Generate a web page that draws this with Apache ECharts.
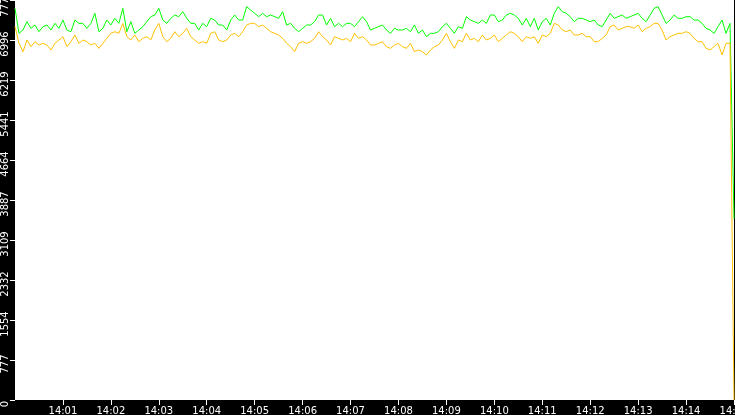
<!DOCTYPE html>
<html>
<head>
<meta charset="utf-8">
<script src="https://cdn.jsdelivr.net/npm/echarts@6/dist/echarts.min.js"></script>
<style>
  html, body { margin: 0; padding: 0; background: #000; }
  #chart { width: 735px; height: 415px; }
</style>
</head>
<body>
<div id="chart"></div>
<script>
// one sample every 5 s, 14:00:00 .. 14:15:00
const times = []
for (let s = 0; s <= 900; s += 5) {
  const m = Math.floor(s / 60), sec = s % 60
  times.push('14:' + String(m).padStart(2, '0') + ':' + String(sec).padStart(2, '0'))
}

const yTicks = ['0', '777', '1554', '2332', '3109', '3887', '4664', '5441', '6219', '6996', '7774']

const greenSeries = [
  7612, 7126, 7191, 7353, 7223, 7288, 7158, 7256, 7288, 7191, 7320, 7223, 7385, 7191, 7158, 7385, 7320, 7320, 7223, 7320, 7515, 7158, 7223, 7385, 7288, 7418, 7320, 7612, 7158, 7353,
  7126, 7191, 7256, 7353, 7450, 7482, 7612, 7385, 7320, 7418, 7482, 7450, 7547, 7418, 7320, 7320, 7191, 7320, 7256, 7418, 7385, 7288, 7288, 7191, 7385, 7482, 7385, 7385, 7644, 7580,
  7515, 7450, 7515, 7450, 7482, 7450, 7418, 7547, 7288, 7320, 7223, 7158, 7223, 7288, 7288, 7353, 7482, 7482, 7288, 7418, 7256, 7320, 7256, 7320, 7320, 7256, 7353, 7450, 7353, 7191,
  7223, 7256, 7288, 7191, 7126, 7223, 7191, 7191, 7223, 7158, 7288, 7126, 7191, 7061, 7126, 7126, 7158, 7256, 7320, 7223, 7126, 7256, 7223, 7450, 7385, 7353, 7320, 7385, 7320, 7482,
  7482, 7353, 7385, 7482, 7515, 7482, 7418, 7288, 7418, 7256, 7418, 7191, 7353, 7418, 7288, 7515, 7644, 7547, 7515, 7450, 7353, 7418, 7418, 7385, 7353, 7385, 7288, 7256, 7385, 7515,
  7418, 7450, 7482, 7418, 7450, 7482, 7515, 7418, 7353, 7482, 7612, 7644, 7482, 7320, 7385, 7482, 7418, 7418, 7450, 7450, 7385, 7385, 7320, 7223, 7191, 7126, 7256, 7385, 7126, 7320,
  3520
]

const orangeSeries = [
  7256, 6932, 6770, 6996, 6867, 6964, 6899, 6932, 6899, 6802, 6932, 6996, 7061, 6867, 6964, 7094, 6932, 6996, 6964, 6899, 6932, 6834, 6932, 7029, 7126, 7158, 7126, 7320, 7061, 6996,
  7094, 6964, 7029, 7061, 6996, 7191, 7320, 7061, 6964, 7029, 7158, 7061, 7126, 7223, 7061, 6996, 6932, 6964, 6932, 7126, 7158, 6996, 6964, 6996, 7094, 7126, 7061, 7158, 7288, 7320,
  7320, 7256, 7288, 7223, 7158, 7126, 7094, 7029, 6932, 6867, 6770, 6932, 6964, 6932, 6964, 7029, 7158, 7061, 6996, 6899, 7061, 7029, 6996, 7029, 6964, 7126, 7029, 7061, 6996, 6899,
  6899, 6932, 6964, 6867, 6834, 6899, 6932, 6867, 6834, 6932, 6770, 6802, 6770, 6705, 6802, 6867, 6899, 6996, 7126, 6964, 6834, 6996, 6964, 7126, 6996, 7029, 6964, 7094, 6996, 7029,
  7094, 6964, 7029, 7094, 7158, 7126, 7061, 6964, 7061, 7029, 7061, 6932, 7094, 7061, 7126, 7320, 7288, 7191, 7158, 7191, 7094, 7094, 7126, 7061, 7061, 6964, 6964, 7029, 7094, 7256,
  7288, 7191, 7223, 7256, 7256, 7223, 7288, 7158, 7223, 7256, 7320, 7320, 7191, 6996, 7061, 7094, 7126, 7126, 7158, 7126, 7029, 6964, 6964, 6834, 6802, 6867, 6932, 6705, 6932, 6932,
  0
]

const isMinute = i => i > 0 && i % 12 === 0
const font = { color: '#fff', fontFamily: 'DejaVu Sans', fontSize: 10 }

const chart = echarts.init(document.getElementById('chart'))
chart.setOption({
  backgroundColor: '#000',
  animation: false,
  grid: {
    left: 15, right: 1, top: 0, bottom: 15,
    outerBoundsMode: 'none', containLabel: false,
    show: true, backgroundColor: '#fff', borderWidth: 0
  },
  xAxis: {
    type: 'category',
    data: times,
    boundaryGap: false,
    axisLine: { show: false },
    axisTick: { show: true, length: 5, interval: isMinute, lineStyle: { color: '#fff' } },
    axisLabel: Object.assign({ interval: isMinute, margin: 6, formatter: v => v.slice(0, 5) }, font),
    splitLine: { show: false }
  },
  yAxis: {
    type: 'value',
    min: 0,
    max: 7774,
    interval: 777.4,
    axisLine: { show: false },
    axisTick: { show: true, length: 5, lineStyle: { color: '#fff' } },
    axisLabel: Object.assign({ rotate: 90, margin: 5, padding: [0, 8, 0, 0], formatter: (v, i) => yTicks[i] }, font),
    splitLine: { show: false }
  },
  series: [
    { type: 'line', data: greenSeries, showSymbol: false, lineStyle: { color: '#00ff00', width: 1 }, itemStyle: { color: '#00ff00' } },
    { type: 'line', data: orangeSeries, showSymbol: false, lineStyle: { color: '#ffc000', width: 1 }, itemStyle: { color: '#ffc000' } }
  ]
})
</script>
</body>
</html>
